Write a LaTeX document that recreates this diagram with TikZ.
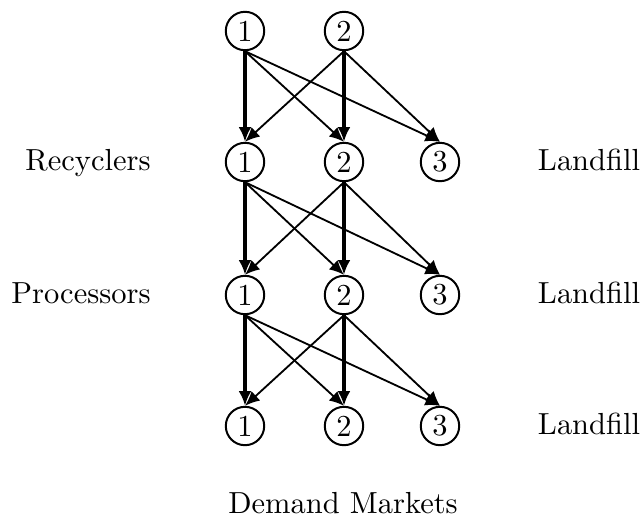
\documentclass[tikz,border=0pt]{standalone}
\usetikzlibrary{arrows.meta}
\begin{document}
\begin{tikzpicture}[x=0.328pt,y=-0.328pt,
  hub/.style={draw,circle,line width=0.65pt,minimum size=12.6pt,inner sep=0pt},
  tag/.style={inner sep=0pt,anchor=base},
  flow/.style={-{Latex[length=4.8pt,width=4.2pt]},line width=0.6pt},
  main/.style={flow,line width=1.15pt}]
\useasboundingbox (0,0) rectangle (643,519);
% top tier
\node[hub] (a1) at (245,31) {1};
\node[hub] (a2) at (344,31) {2};
% recyclers
\node[hub] (b1) at (245,162) {1};
\node[hub] (b2) at (344,162) {2};
\node[hub] (b3) at (440,162) {3};
% processors
\node[hub] (c1) at (245,295) {1};
\node[hub] (c2) at (344,295) {2};
\node[hub] (c3) at (440,295) {3};
% demand markets
\node[hub] (d1) at (245,426) {1};
\node[hub] (d2) at (344,426) {2};
\node[hub] (d3) at (440,426) {3};
% labels
\node[tag] (lr) at (88,170) {Recyclers};
\node[tag] (lp) at (81,303) {Processors};
\node[tag] (f1) at (589,170) {Landfill};
\node[tag] (f2) at (589,303) {Landfill};
\node[tag] (f3) at (589,434) {Landfill};
\node[tag] (dm) at (343,513) {Demand Markets};
% links between tiers
\foreach \u/\v in {a/b,b/c,c/d}{
  \draw[main] (\u1.south) -- (\v1.north);
  \draw[main] (\u2.south) -- (\v2.north);
  \draw[flow] (\u1.south) -- (\v2.north);
  \draw[flow] (\u1.south) -- (\v3.north);
  \draw[flow] (\u2.south) -- (\v1.north);
  \draw[flow] (\u2.south) -- (\v3.north);
}
\end{tikzpicture}
\end{document}
